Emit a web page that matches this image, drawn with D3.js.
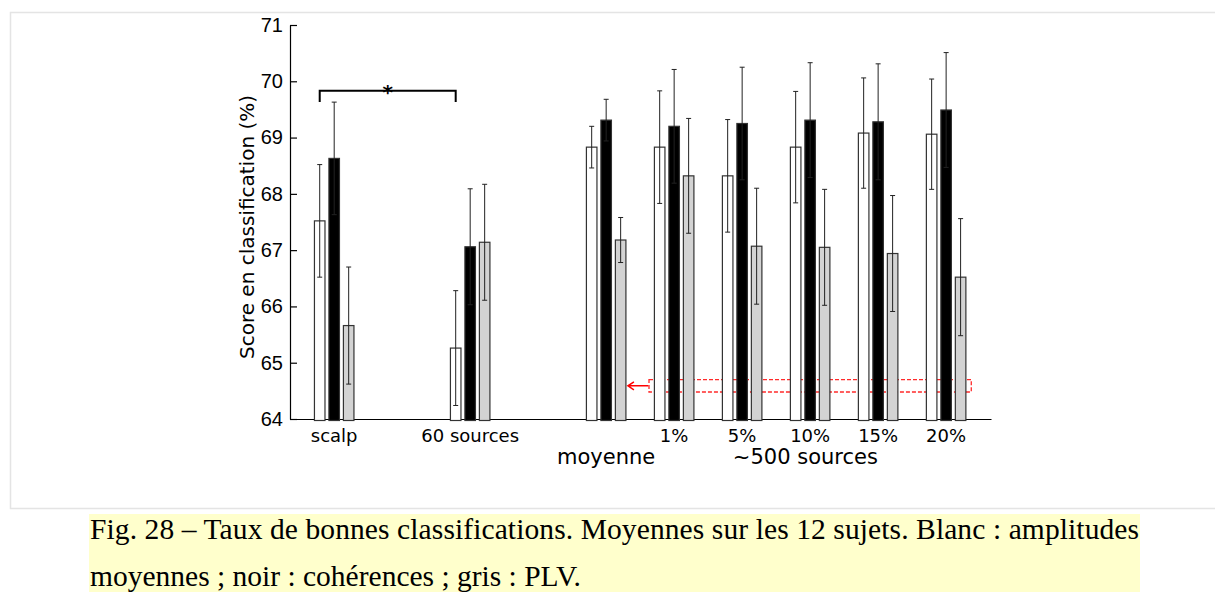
<!DOCTYPE html>
<html>
<head>
<meta charset="utf-8">
<script src="https://cdn.jsdelivr.net/npm/d3@7"></script>
<style>
  body { margin: 0; background: #fff; }
  svg { display: block; }
</style>
</head>
<body>
<svg id="chart"></svg>
<script>
// group labels and their x positions (matlab style bar positions)
const groups = ["scalp", "60 sources", "moyenne", "1%", "5%", "10%", "15%", "20%"];
const groupPos = [1, 3, 5, 6, 7, 8, 9, 10];

// white : amplitudes moyennes, black : coherences, grey : PLV
const amplitudes = [67.52, 65.26, 68.83, 68.83, 68.32, 68.83, 69.08, 69.06];
const amplitudesErr = [1.0, 1.02, 0.37, 1.0, 1.0, 0.99, 0.98, 0.98];
const coherences = [68.63, 67.06, 69.31, 69.20, 69.25, 69.31, 69.28, 69.49];
const coherencesErr = [1.0, 1.03, 0.37, 1.01, 1.0, 1.02, 1.03, 1.02];
const plv = [65.66, 67.14, 67.18, 68.32, 67.07, 67.05, 66.94, 66.52];
const plvErr = [1.04, 1.03, 0.4, 1.02, 1.03, 1.03, 1.03, 1.04];

const yTicks = [64, 65, 66, 67, 68, 69, 70, 71];

// first row of labels under the axis, second row (bigger)
const labelsRow1 = [["scalp", 1], ["60 sources", 3], ["1%", 6], ["5%", 7], ["10%", 8], ["15%", 9], ["20%", 10]];
const labelsRow2 = [["moyenne", 5], ["~500 sources", 7.93]];

// significance bracket between scalp and 60 sources (amplitudes)
const bracketGroups = [0, 1];
const bracketValue = 69.83;
const bracketDrop = 0.2;

// red dashed highlight box + arrow (data units)
const redBox = { x0: 5.63, x1: 10.37, y0: 64.48, y1: 64.70 };
const redArrow = { from: 5.62, to: 5.32, y: 64.59 };

const captionLines = [
    "Fig. 28 \u2013 Taux de bonnes classifications. Moyennes sur les 12 sujets. Blanc : amplitudes",
    "moyennes ; noir : coh\u00e9rences ; gris : PLV."
];

const svgWidth = 1215, svgHeight = 592;

const svg = d3.select("#chart")
    .attr("width", svgWidth)
    .attr("height", svgHeight);

// light page frame
svg.append("path")
    .attr("d", `M${svgWidth},12.5 H10.5 V508.5 H${svgWidth}`)
    .attr("fill", "none")
    .attr("stroke", "#e4e4e4")
    .attr("stroke-width", 1.5);

const x = d3.scaleLinear().domain([0.35, 10.66]).range([290, 991]);
const y = d3.scaleLinear().domain([64, 71]).range([419, 25]);

const unit = x(1) - x(0);
const barW = 0.155 * unit;
const offset = 0.213 * unit;

const series = [
    { values: amplitudes, err: amplitudesErr, fill: "#ffffff", dx: -offset },
    { values: coherences, err: coherencesErr, fill: "#000000", dx: 0 },
    { values: plv, err: plvErr, fill: "#d3d3d3", dx: offset }
];

// axes
svg.append("g")
    .attr("transform", `translate(0,${y(64)})`)
    .call(d3.axisBottom(x).tickValues([]).tickSizeOuter(0))
    .call(g => g.select(".domain").attr("stroke", "#000").attr("stroke-width", 1.2));

svg.append("g")
    .attr("transform", `translate(${x.range()[0]},0)`)
    .call(d3.axisLeft(y).tickValues(yTicks).tickFormat(d3.format("d"))
        .tickSize(-7).tickSizeOuter(0).tickPadding(7))
    .call(g => g.select(".domain").attr("stroke", "#000").attr("stroke-width", 1.2))
    .call(g => g.selectAll(".tick line").attr("stroke", "#000").attr("stroke-width", 1.2))
    .call(g => g.selectAll(".tick text")
        .attr("font-family", "'Liberation Sans', Arial, sans-serif")
        .attr("font-size", 20)
        .attr("fill", "#000"));

// red dashed box (under the bars)
svg.append("rect")
    .attr("x", x(redBox.x0))
    .attr("y", y(redBox.y1))
    .attr("width", x(redBox.x1) - x(redBox.x0))
    .attr("height", y(redBox.y0) - y(redBox.y1))
    .attr("fill", "none")
    .attr("stroke", "#ff2a2a")
    .attr("stroke-width", 1.3)
    .attr("stroke-dasharray", "4,2");

const ay = y(redArrow.y);
svg.append("path")
    .attr("d", `M${x(redArrow.from)},${ay} H${x(redArrow.to)} M${x(redArrow.to) + 6},${ay - 4} L${x(redArrow.to)},${ay} L${x(redArrow.to) + 6},${ay + 4}`)
    .attr("fill", "none")
    .attr("stroke", "#ff0000")
    .attr("stroke-width", 1.5);

// bars
series.forEach(s => {
    const g = svg.append("g");
    g.selectAll("rect")
        .data(s.values)
        .join("rect")
        .attr("x", (d, i) => x(groupPos[i]) + s.dx - barW / 2)
        .attr("y", d => y(d))
        .attr("width", barW)
        .attr("height", d => y(64) + 1.5 - y(d))
        .attr("fill", s.fill)
        .attr("stroke", "#333")
        .attr("stroke-width", 1.2);

    g.selectAll("path")
        .data(s.values)
        .join("path")
        .attr("d", (d, i) => {
            const cx = x(groupPos[i]) + s.dx;
            const lo = y(d - s.err[i]), hi = y(d + s.err[i]);
            return `M${cx},${lo} V${hi} M${cx - 2.5},${lo} H${cx + 2.5} M${cx - 2.5},${hi} H${cx + 2.5}`;
        })
        .attr("fill", "none")
        .attr("stroke", "#222")
        .attr("stroke-width", 1);
});

// significance bracket
const bx0 = x(groupPos[bracketGroups[0]]) - offset;
const bx1 = x(groupPos[bracketGroups[1]]) - offset;
svg.append("path")
    .attr("d", `M${bx0},${y(bracketValue - bracketDrop)} V${y(bracketValue)} H${bx1} V${y(bracketValue - bracketDrop)}`)
    .attr("fill", "none")
    .attr("stroke", "#000")
    .attr("stroke-width", 2);

svg.append("text")
    .attr("x", (bx0 + bx1) / 2)
    .attr("y", y(bracketValue) + 8)
    .attr("text-anchor", "middle")
    .attr("font-family", "'DejaVu Sans', sans-serif")
    .attr("font-size", 20)
    .attr("font-weight", "bold")
    .text("*");

// category labels
svg.append("g")
    .selectAll("text")
    .data(labelsRow1)
    .join("text")
    .attr("x", d => x(d[1]))
    .attr("y", 442)
    .attr("text-anchor", "middle")
    .attr("font-family", "'DejaVu Sans', sans-serif")
    .attr("font-size", 18)
    .text(d => d[0]);

svg.append("g")
    .selectAll("text")
    .data(labelsRow2)
    .join("text")
    .attr("x", d => x(d[1]))
    .attr("y", 464)
    .attr("text-anchor", "middle")
    .attr("font-family", "'DejaVu Sans', sans-serif")
    .attr("font-size", 21)
    .text(d => d[0]);

// y label
svg.append("text")
    .attr("transform", `translate(254,${(y(64) + y(71)) / 2 + 5}) rotate(-90)`)
    .attr("text-anchor", "middle")
    .attr("font-family", "'DejaVu Sans', sans-serif")
    .attr("font-size", 20)
    .text("Score en classification (%)");

// caption
svg.append("rect")
    .attr("x", 89)
    .attr("y", 514)
    .attr("width", 1140 - 89)
    .attr("height", svgHeight - 514)
    .attr("fill", "#ffffcc");

svg.append("text")
    .attr("x", 90)
    .attr("y", 539)
    .attr("font-family", "'Liberation Serif', 'Times New Roman', serif")
    .attr("font-size", 29.5)
    .attr("textLength", 1049)
    .attr("lengthAdjust", "spacing")
    .text(captionLines[0]);

svg.append("text")
    .attr("x", 90)
    .attr("y", 586)
    .attr("font-family", "'Liberation Serif', 'Times New Roman', serif")
    .attr("font-size", 29.5)
    .text(captionLines[1]);
</script>
</body>
</html>
